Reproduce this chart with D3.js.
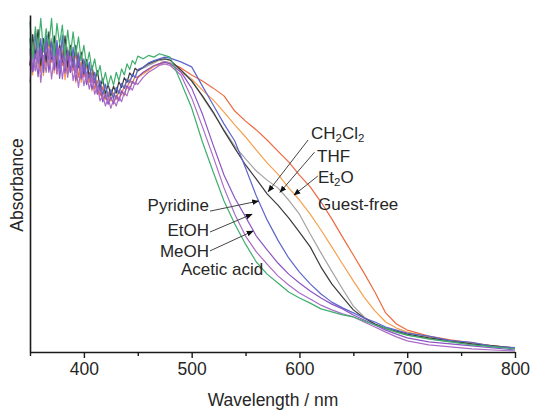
<!DOCTYPE html>
<html>
<head>
<meta charset="utf-8">
<script src="https://cdn.jsdelivr.net/npm/d3@7/dist/d3.min.js"></script>
<style>
  body { margin: 0; background: #fff; }
  text { font-family: "Liberation Sans", Arial, sans-serif; fill: #262626; }
</style>
</head>
<body>
<div id="chart"></div>
<script>
// wavelength grid (nm)
const wavelengths = [
  350, 352.5, 355, 357.5, 360, 362.5, 365, 367.5, 370, 372.5,
  375, 377.5, 380, 382.5, 385, 387.5, 390, 392.5, 395, 397.5,
  400, 402.5, 405, 407.5, 410, 412.5, 415, 417.5, 420, 422.5,
  425, 427.5, 430, 432.5, 435, 437.5, 440, 442.5, 445, 447.5, 450,
  455, 460, 465, 470, 475, 480,
  490, 500, 510, 520, 530, 540, 550, 560, 570, 580, 590, 600, 610, 620, 630, 640, 650, 660, 670, 680, 690, 700,
  720, 740, 760, 780, 800
];

// absorbance (a.u.)
const guestFree = [
  0.85, 0.922, 0.835, 0.897, 0.83, 0.92, 0.85, 0.93, 0.86, 0.908,
  0.825, 0.912, 0.85, 0.898, 0.825, 0.89, 0.835, 0.89, 0.815, 0.86,
  0.815, 0.853, 0.80, 0.83, 0.78, 0.805, 0.76, 0.787, 0.75, 0.772,
  0.745, 0.769, 0.75, 0.777, 0.763, 0.792, 0.782, 0.808, 0.797, 0.818, 0.814,
  0.828, 0.84, 0.848, 0.856, 0.862, 0.858,
  0.843, 0.822, 0.804, 0.783, 0.760, 0.715, 0.685, 0.659, 0.629, 0.596, 0.564, 0.525, 0.490, 0.445, 0.395, 0.341, 0.288, 0.234, 0.178, 0.116, 0.083, 0.065,
  0.047, 0.036, 0.027, 0.018, 0.012
];
const et2o = [
  0.89, 0.822, 0.915, 0.847, 0.91, 0.82, 0.89, 0.84, 0.92, 0.828,
  0.895, 0.842, 0.90, 0.808, 0.885, 0.83, 0.875, 0.80, 0.855, 0.80,
  0.85, 0.798, 0.83, 0.775, 0.805, 0.765, 0.79, 0.747, 0.767, 0.738,
  0.755, 0.735, 0.76, 0.747, 0.775, 0.76, 0.79, 0.78, 0.803, 0.794, 0.816,
  0.825, 0.835, 0.848, 0.852, 0.86, 0.855,
  0.831, 0.810, 0.777, 0.748, 0.712, 0.674, 0.638, 0.599, 0.561, 0.528, 0.487, 0.451, 0.409, 0.362, 0.312, 0.261, 0.211, 0.163, 0.122, 0.089, 0.071, 0.059,
  0.045, 0.033, 0.024, 0.018, 0.012
];
const thf = [
  0.85, 0.922, 0.835, 0.917, 0.91, 0.85, 0.94, 0.86, 0.93, 0.868,
  0.915, 0.832, 0.92, 0.858, 0.905, 0.83, 0.885, 0.83, 0.89, 0.83,
  0.865, 0.808, 0.85, 0.805, 0.83, 0.78, 0.80, 0.762, 0.79, 0.758,
  0.78, 0.757, 0.782, 0.765, 0.795, 0.782, 0.808, 0.798, 0.823, 0.816, 0.836,
  0.842, 0.85, 0.858, 0.866, 0.862, 0.858,
  0.837, 0.807, 0.757, 0.709, 0.659, 0.611, 0.573, 0.537, 0.510, 0.487, 0.451, 0.409, 0.350, 0.294, 0.240, 0.187, 0.136, 0.104, 0.083, 0.068, 0.059, 0.050,
  0.039, 0.030, 0.024, 0.018, 0.012
];
const ch2cl2 = [
  0.85, 0.942, 0.875, 0.957, 0.85, 0.93, 0.86, 0.95, 0.87, 0.938,
  0.835, 0.912, 0.86, 0.938, 0.845, 0.91, 0.845, 0.91, 0.845, 0.89,
  0.825, 0.868, 0.815, 0.85, 0.80, 0.835, 0.785, 0.812, 0.765, 0.795,
  0.76, 0.789, 0.768, 0.802, 0.785, 0.814, 0.80, 0.828, 0.817, 0.842, 0.834,
  0.845, 0.855, 0.862, 0.868, 0.87, 0.866,
  0.837, 0.804, 0.760, 0.712, 0.656, 0.605, 0.555, 0.513, 0.469, 0.436, 0.398, 0.356, 0.312, 0.252, 0.202, 0.163, 0.125, 0.101, 0.083, 0.071, 0.062, 0.053,
  0.042, 0.033, 0.024, 0.018, 0.012
];
const pyridine = [
  0.93, 0.832, 0.945, 0.857, 0.93, 0.83, 0.94, 0.87, 0.92, 0.838,
  0.925, 0.842, 0.94, 0.848, 0.895, 0.83, 0.905, 0.83, 0.885, 0.815,
  0.87, 0.818, 0.86, 0.80, 0.83, 0.775, 0.805, 0.762, 0.795, 0.755,
  0.777, 0.752, 0.785, 0.767, 0.797, 0.782, 0.81, 0.80, 0.825, 0.814, 0.838,
  0.845, 0.858, 0.865, 0.87, 0.875, 0.872,
  0.861, 0.846, 0.789, 0.733, 0.677, 0.626, 0.546, 0.463, 0.392, 0.332, 0.279, 0.237, 0.202, 0.172, 0.148, 0.131, 0.116, 0.101, 0.089, 0.074, 0.065, 0.056,
  0.047, 0.034, 0.029, 0.016, 0.013
];
const etoh = [
  0.90, 0.832, 0.885, 0.817, 0.90, 0.85, 0.92, 0.83, 0.89, 0.838,
  0.905, 0.812, 0.88, 0.828, 0.895, 0.83, 0.865, 0.805, 0.865, 0.81,
  0.845, 0.793, 0.825, 0.78, 0.81, 0.765, 0.785, 0.742, 0.765, 0.735,
  0.757, 0.737, 0.762, 0.745, 0.775, 0.764, 0.79, 0.778, 0.803, 0.794, 0.816,
  0.83, 0.84, 0.85, 0.855, 0.86, 0.855,
  0.831, 0.783, 0.706, 0.614, 0.525, 0.457, 0.401, 0.344, 0.303, 0.264, 0.231, 0.205, 0.181, 0.160, 0.142, 0.128, 0.110, 0.095, 0.080, 0.065, 0.053, 0.042,
  0.030, 0.024, 0.018, 0.012, 0.006
];
const meoh = [
  0.80, 0.882, 0.835, 0.897, 0.80, 0.88, 0.83, 0.90, 0.81, 0.878,
  0.825, 0.902, 0.81, 0.868, 0.815, 0.88, 0.805, 0.85, 0.785, 0.85,
  0.79, 0.828, 0.78, 0.815, 0.765, 0.79, 0.745, 0.762, 0.73, 0.755,
  0.723, 0.749, 0.73, 0.757, 0.743, 0.77, 0.76, 0.788, 0.777, 0.80, 0.794,
  0.815, 0.83, 0.84, 0.85, 0.855, 0.85,
  0.822, 0.754, 0.668, 0.579, 0.487, 0.409, 0.344, 0.297, 0.261, 0.226, 0.199, 0.175, 0.157, 0.139, 0.125, 0.113, 0.104, 0.089, 0.074, 0.059, 0.045, 0.033,
  0.021, 0.015, 0.009, 0.006, 0.003
];
const aceticAcid = [
  0.98, 0.87, 0.965, 0.90, 0.99, 0.89, 0.96, 0.91, 0.99, 0.878,
  0.975, 0.912, 0.97, 0.878, 0.955, 0.88, 0.95, 0.88, 0.935, 0.865,
  0.91, 0.848, 0.89, 0.835, 0.87, 0.82, 0.85, 0.797, 0.83, 0.79,
  0.82, 0.792, 0.83, 0.805, 0.84, 0.822, 0.855, 0.838, 0.865, 0.854, 0.878,
  0.87, 0.88, 0.875, 0.885, 0.88, 0.875,
  0.801, 0.724, 0.623, 0.534, 0.448, 0.380, 0.320, 0.267, 0.231, 0.205, 0.178, 0.160, 0.145, 0.128, 0.119, 0.110, 0.104, 0.092, 0.080, 0.071, 0.059, 0.050,
  0.039, 0.030, 0.021, 0.015, 0.009
];

const majorTicks = [400, 500, 600, 700, 800];
const minorTicks = [350, 450, 550, 650, 750];

const series = [
  { name: "Guest-free", values: guestFree, color: "#ec6a40" },
  { name: "Et2O", values: et2o, color: "#f5a04e" },
  { name: "THF", values: thf, color: "#a3a3a3" },
  { name: "CH2Cl2", values: ch2cl2, color: "#3a3a3a" },
  { name: "Pyridine", values: pyridine, color: "#5d66cc" },
  { name: "EtOH", values: etoh, color: "#8c55c4" },
  { name: "MeOH", values: meoh, color: "#aa6cc8" },
  { name: "Acetic acid", values: aceticAcid, color: "#3fae6e" }
];

// label text, text position, arrow tail/tip in data units
const labels = [
  { parts: [["CH", 0], ["2", 1], ["Cl", 0], ["2", 1]], tx: 311, ty: 139, from: [608, 0.629], to: [571, 0.476] },
  { parts: [["THF", 0]], tx: 317, ty: 162, from: [614, 0.593], to: [582, 0.474] },
  { parts: [["Et", 0], ["2", 1], ["O", 0]], tx: 318, ty: 183, from: [617, 0.522], to: [595, 0.466] },
  { parts: [["Guest-free", 0]], tx: 318, ty: 210 },
  { parts: [["Pyridine", 0]], tx: 209, ty: 211, anchor: "end", from: [517, 0.418], to: [562, 0.448] },
  { parts: [["EtOH", 0]], tx: 209, ty: 236, anchor: "end", from: [517, 0.356], to: [556, 0.409] },
  { parts: [["MeOH", 0]], tx: 209, ty: 257, anchor: "end", from: [517, 0.300], to: [557, 0.359] },
  { parts: [["Acetic acid", 0]], tx: 181, ty: 275 }
];

const width = 533;
const height = 410;
const fontSize = 17.5;
const labelSize = 17;

const x = d3.scaleLinear().domain([350, 800]).range([30, 515]);
const y = d3.scaleLinear().domain([0, 1]).range([352, 15]);

const svg = d3
  .select("#chart")
  .append("svg")
  .attr("width", width)
  .attr("height", height);

svg.append("defs")
  .append("marker")
  .attr("id", "head")
  .attr("viewBox", "0 0 10 10")
  .attr("refX", 9)
  .attr("refY", 5)
  .attr("markerWidth", 7)
  .attr("markerHeight", 7)
  .attr("markerUnits", "userSpaceOnUse")
  .attr("orient", "auto")
  .append("path")
  .attr("d", "M0,1 L10,5 L0,9 Z")
  .attr("fill", "#111");

// curves
const line = d3
  .line()
  .x((d, i) => x(wavelengths[i]))
  .y((d) => y(d));

svg.append("g")
  .selectAll("path")
  .data(series)
  .enter()
  .append("path")
  .attr("d", (d) => line(d.values))
  .attr("fill", "none")
  .attr("stroke", (d) => d.color)
  .attr("stroke-width", 1.2)
  .attr("stroke-linejoin", "round");

// axes
const xAxis = svg.append("g")
  .attr("transform", `translate(0,${y(0)})`)
  .call(d3.axisBottom(x).tickValues(majorTicks).tickSize(6).tickSizeOuter(0).tickPadding(5));
xAxis.select(".domain").attr("stroke", "#1a1a1a").attr("stroke-width", 1.6);
xAxis.selectAll(".tick line").attr("stroke", "#1a1a1a").attr("stroke-width", 1.4);
xAxis.selectAll(".tick text")
  .attr("font-size", fontSize)
  .attr("font-family", "Liberation Sans, Arial, sans-serif")
  .attr("fill", "#262626");

const minorAxis = svg.append("g")
  .attr("transform", `translate(0,${y(0)})`)
  .call(d3.axisBottom(x).tickValues(minorTicks).tickSize(4).tickSizeOuter(0).tickFormat(""));
minorAxis.select(".domain").remove();
minorAxis.selectAll(".tick line").attr("stroke", "#1a1a1a").attr("stroke-width", 1.4);

const yAxis = svg.append("g")
  .attr("transform", `translate(${x(350)},0)`)
  .call(d3.axisLeft(y).tickValues([]).tickSizeOuter(0));
yAxis.select(".domain").attr("stroke", "#1a1a1a").attr("stroke-width", 1.6);

// axis titles
svg.append("text")
  .attr("x", 273)
  .attr("y", 406)
  .attr("text-anchor", "middle")
  .attr("font-size", fontSize)
  .text("Wavelength / nm");

svg.append("text")
  .attr("transform", "translate(23,185) rotate(-90)")
  .attr("text-anchor", "middle")
  .attr("font-size", fontSize)
  .text("Absorbance");

// leader arrows
svg.append("g")
  .selectAll("line")
  .data(labels.filter((d) => d.from))
  .enter()
  .append("line")
  .attr("x1", (d) => x(d.from[0]))
  .attr("y1", (d) => y(d.from[1]))
  .attr("x2", (d) => x(d.to[0]))
  .attr("y2", (d) => y(d.to[1]))
  .attr("stroke", "#444")
  .attr("stroke-width", 1)
  .attr("marker-end", "url(#head)");

// labels with subscripts
const lab = svg.append("g")
  .selectAll("text")
  .data(labels)
  .enter()
  .append("text")
  .attr("x", (d) => d.tx)
  .attr("y", (d) => d.ty)
  .attr("text-anchor", (d) => d.anchor || "start")
  .attr("font-size", labelSize);

lab.each(function (d) {
  const t = d3.select(this);
  let sub = false;
  d.parts.forEach(([s, isSub]) => {
    const ts = t.append("tspan").text(s);
    if (isSub && !sub) ts.attr("font-size", 11.5).attr("dy", 2.5);
    if (!isSub && sub) ts.attr("dy", -2.5);
    sub = !!isSub;
  });
});
</script>
</body>
</html>
